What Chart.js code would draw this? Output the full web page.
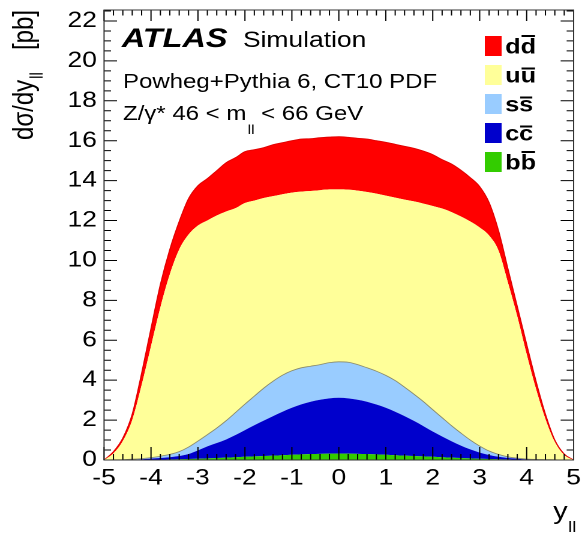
<!DOCTYPE html>
<html><head><meta charset="utf-8">
<script src="https://cdn.jsdelivr.net/npm/chart.js@4"></script>
<style>
html,body{margin:0;padding:0;background:#fff;overflow:hidden;}
#wrap{position:absolute;left:0;top:0;width:485px;height:534px;transform:scaleX(1.2);transform-origin:0 0;}
canvas{display:block;}
</style></head><body>
<div id="wrap"><canvas id="c" width="485" height="534"></canvas></div>
<script>
// rapidity bin centres (y_ll)
const rapidity = [-5.0,-4.8,-4.6,-4.4,-4.2,-4.0,-3.8,-3.6,-3.4,-3.2,
  -3.0,-2.8,-2.6,-2.4,-2.2,-2.0,-1.8,-1.6,-1.4,-1.2,
  -1.0,-0.8,-0.6,-0.4,-0.2,0.0,0.2,0.4,0.6,0.8,
  1.0,1.2,1.4,1.6,1.8,2.0,2.2,2.4,2.6,2.8,
  3.0,3.2,3.4,3.6,3.8,4.0,4.2,4.4,4.6,4.8,5.0];
// contributions dσ/dy [pb] per initial-state flavour (stacked)
const bbValues = [0,0,0,0.005,0.01,0.015,0.02,0.03,0.04,0.05,
  0.06,0.08,0.1,0.12,0.14,0.16,0.18,0.2,0.22,0.24,
  0.26,0.28,0.3,0.31,0.32,0.32,0.32,0.31,0.3,0.28,
  0.26,0.24,0.22,0.2,0.18,0.16,0.14,0.12,0.1,0.08,
  0.06,0.05,0.04,0.03,0.02,0.015,0.01,0.005,0,0,0];
const ccValues = [0,0,0.01,0.015,0.03,0.055,0.08,0.11,0.16,0.25,
  0.42,0.6,0.75,0.91,1.11,1.34,1.56,1.77,1.98,2.18,
  2.36,2.51,2.62,2.71,2.77,2.8,2.77,2.71,2.62,2.5,
  2.36,2.18,1.98,1.76,1.52,1.27,1.04,0.82,0.62,0.45,
  0.31,0.2,0.12,0.07,0.04,0.015,0.01,0.005,0,0,0];
const ssValues = [0,0.01,0.01,0.02,0.03,0.05,0.09,0.14,0.22,0.35,
  0.47,0.59,0.75,0.94,1.13,1.3,1.46,1.63,1.75,1.83,
  1.85,1.83,1.78,1.76,1.79,1.8,1.81,1.76,1.7,1.67,
  1.62,1.56,1.45,1.34,1.23,1.09,0.94,0.78,0.63,0.47,
  0.33,0.2,0.12,0.06,0.03,0.02,0.01,0.01,0.01,0,0];
const uuValues = [0,0.32,0.93,1.96,3.68,5.58,7.46,9.02,10.13,10.65,
  10.8,10.73,10.65,10.48,10.24,10.08,9.8,9.53,9.27,9.07,
  8.93,8.83,8.78,8.74,8.68,8.64,8.65,8.72,8.81,8.9,
  9.01,9.17,9.4,9.66,9.92,10.21,10.48,10.7,10.85,10.95,
  10.95,10.8,10.22,8.74,7.11,5.25,3.52,2.03,0.89,0.25,0];
const ddValues = [0,0.09,0.15,0.3,0.6,0.9,1.15,1.25,1.4,1.8,
  2.0,2.1,2.25,2.45,2.53,2.57,2.55,2.52,2.58,2.58,
  2.6,2.63,2.62,2.63,2.62,2.64,2.62,2.62,2.65,2.65,
  2.67,2.67,2.67,2.66,2.63,2.57,2.45,2.41,2.32,2.2,
  2.05,1.65,1.0,0.7,0.5,0.5,0.4,0.25,0.1,0.05,0];

const quarks = ['b','c','s','u','d'];
const seriesLabels = ['bb̄','cc̄','ss̄','uū','dd̄'];
const seriesValues = [bbValues, ccValues, ssValues, uuValues, ddValues];
const fillColors = ['#33cc00','#0000cc','#99ccff','#ffff99','#ff0000'];
const lineColors = ['#33cc00','#0000cc','#8a8a6a','#ffff99','#e00000'];
const lineWidths = [0,0,0.8,0,0.9];

const FONT = "'Liberation Sans', Arial, Helvetica, sans-serif";

const datasets = seriesValues.map((vals, i) => ({
  label: seriesLabels[i],
  quark: quarks[i],
  data: rapidity.map((x, j) => ({x: x, y: vals[j]})),
  backgroundColor: fillColors[i],
  borderColor: lineColors[i],
  borderWidth: lineWidths[i],
  fill: i === 0 ? 'origin' : '-1',
  pointRadius: 0,
  cubicInterpolationMode: 'monotone'
}));

const deco = {
  id: 'deco',
  afterDatasetsDraw(chart) {
    const {ctx, chartArea: a, scales: {x, y}} = chart;
    ctx.save();
    ctx.strokeStyle = '#000';
    ctx.lineWidth = 1;
    ctx.beginPath();
    for (let i = 0; i <= 50; i++) {
      const v = -5 + i * 0.2;
      const px = x.getPixelForValue(v);
      const major = i % 5 === 0;
      ctx.moveTo(px, a.bottom); ctx.lineTo(px, a.bottom - (major ? 13 : 6));
      ctx.moveTo(px, a.top); ctx.lineTo(px, a.top + (major ? 11 : 5.5));
    }
    for (let i = 0; i <= 45; i++) {
      const v = i * 0.5;
      if (v > y.max) break;
      const py = y.getPixelForValue(v);
      const major = i % 4 === 0;
      const l = major ? 10.8 : 5.8;
      ctx.moveTo(a.left, py); ctx.lineTo(a.left + l, py);
      ctx.moveTo(a.right, py); ctx.lineTo(a.right - l, py);
    }
    ctx.stroke();
    ctx.strokeStyle = '#333';
    ctx.strokeRect(a.left, a.top, a.right - a.left, a.bottom - a.top);
    ctx.restore();
  },
  afterDraw(chart) {
    const ctx = chart.ctx;
    ctx.save();
    ctx.fillStyle = '#000';
    ctx.textBaseline = 'alphabetic';
    ctx.textAlign = 'left';
    // ATLAS label
    ctx.font = `italic bold 27px ${FONT}`;
    ctx.fillText('ATLAS', 101.5, 47);
    ctx.font = `22px ${FONT}`;
    ctx.fillText('Simulation', 202.5, 47);
    ctx.font = `20px ${FONT}`;
    ctx.fillText('Powheg+Pythia 6, CT10 PDF', 102.5, 88);
    let cx = 102.5;
    const s1 = 'Z/γ* 46 < m';
    ctx.fillText(s1, cx, 120);
    cx += ctx.measureText(s1).width + 1;
    ctx.font = `13px ${FONT}`;
    ctx.fillText('ll', cx, 134);
    cx += ctx.measureText('ll').width;
    ctx.font = `20px ${FONT}`;
    ctx.fillText(' < 66 GeV', cx, 120);

    // legend
    const ds = chart.data.datasets.slice().reverse();
    ds.forEach((d, i) => {
      const cy = 46 + i * 29;
      ctx.fillStyle = d.backgroundColor;
      ctx.fillRect(404, cy - 10, 14, 20);
      ctx.fillStyle = '#000';
      ctx.font = `bold 21px ${FONT}`;
      const base = cy + 7.5;
      const q = d.quark;
      ctx.fillText(q + q, 421, base);
      const w1 = ctx.measureText(q).width;
      const asc = 'bdfhklt'.includes(q);
      const by = base - (asc ? 17.5 : 14);
      ctx.fillRect(421 + w1 + 0.8, by - 1, w1 - 1.6, 2);
    });

    // y axis title (rotated)
    ctx.save();
    ctx.translate(27.5, 10);
    ctx.rotate(-Math.PI / 2);
    ctx.fillStyle = '#000';
    ctx.font = `24px ${FONT}`;
    ctx.textAlign = 'left';
    ctx.fillText('dσ/dy', -130, 0);
    const w = ctx.measureText('dσ/dy').width;
    ctx.font = `15px ${FONT}`;
    ctx.fillText('ll', -130 + w + 1, 8);
    ctx.font = `24px ${FONT}`;
    ctx.textAlign = 'right';
    ctx.fillText('[pb]', 0, 0);
    ctx.restore();

    // x axis title
    ctx.font = `24px ${FONT}`;
    ctx.textAlign = 'left';
    ctx.fillText('y', 461, 519);
    const wy = ctx.measureText('y').width;
    ctx.font = `15px ${FONT}`;
    ctx.fillText('ll', 461 + wy + 0.5, 532);
    ctx.restore();
  }
};

new Chart(document.getElementById('c'), {
  type: 'line',
  data: { datasets },
  options: {
    responsive: false,
    animation: false,
    devicePixelRatio: 2,
    layout: { padding: { left: 0, right: 7, top: 10, bottom: 0 } },
    plugins: { legend: { display: false }, tooltip: { enabled: false } },
    scales: {
      x: {
        type: 'linear', min: -5, max: 5,
        grid: { display: false, drawTicks: false },
        border: { display: false },
        ticks: { stepSize: 1, autoSkip: false, maxRotation: 0, color: '#000',
                 font: { family: FONT, size: 22 }, padding: 5 },
        afterFit(s) { s.height = 74; s.paddingLeft = 0; s.paddingRight = 0; }
      },
      y: {
        stacked: true, min: 0, max: 22.55,
        grid: { display: false, drawTicks: false },
        border: { display: false },
        ticks: { stepSize: 2, includeBounds: false, color: '#000',
                 font: { family: FONT, size: 22 }, padding: 6 },
        afterFit(s) { s.width = 86.7; s.paddingTop = 0; s.paddingBottom = 0; }
      }
    }
  },
  plugins: [deco]
});
</script>
</body></html>
